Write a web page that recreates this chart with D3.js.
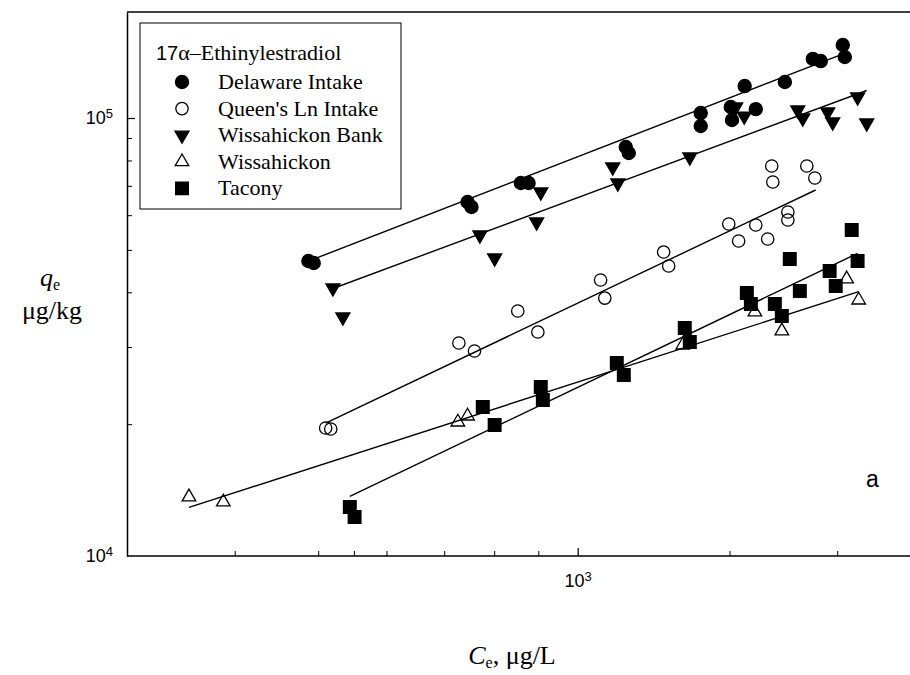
<!DOCTYPE html>
<html>
<head>
<meta charset="utf-8">
<script src="https://cdn.jsdelivr.net/npm/d3@7"></script>
<style>
body { margin: 0; background: #fff; }
svg { display: block; }
</style>
</head>
<body>
<script>
// ---- data (Ce in ug/L, qe in ug/kg) ----
const seriesNames = ["Delaware Intake", "Queen's Ln Intake", "Wissahickon Bank", "Wissahickon", "Tacony"];

const delawareCe = [487, 494, 745, 753, 859, 877, 1137, 1146, 1389, 1389, 1505, 1510, 1562, 1609, 1739, 1874, 1914, 2030, 2041];
const delawareQe = [47150, 46660, 64300, 62640, 71050, 71050, 85860, 83190, 102650, 95880, 105950, 98950, 118300, 104800, 120850, 136400, 134900, 146800, 137800];

const queensCe = [510, 517, 728, 759, 852, 899, 1063, 1075, 1258, 1275, 1497, 1537, 1609, 1661, 1753, 1753, 1679, 1684, 1844, 1884];
const queensQe = [19600, 19500, 30640, 29380, 36260, 32460, 42670, 38810, 49430, 45930, 57280, 52380, 56980, 52930, 61020, 58500, 77700, 71430, 77700, 72950];

const bankCe = [520, 534, 770, 801, 896, 906, 1098, 1113, 1349, 1525, 1560, 1800, 1824, 1950, 1976, 2112, 2164];
const bankQe = [40920, 35130, 54060, 47900, 57890, 67780, 77290, 71050, 81470, 105950, 101000, 104300, 100000, 103200, 97920, 111660, 97400];

const wissCe = [354, 388, 726, 745, 1324, 1605, 1725, 2051, 2118];
const wissQe = [13640, 13280, 20220, 20870, 30310, 36060, 32640, 42900, 38400];

const taconyCe = [544, 551, 776, 801, 906, 911, 1110, 1131, 1331, 1349, 1571, 1588, 1693, 1725, 1762, 1810, 1960, 1992, 2112, 2079];
const taconyQe = [12940, 12270, 21890, 19910, 24310, 22710, 27580, 25890, 33150, 30800, 39850, 37600, 37600, 35310, 47650, 40270, 44740, 41340, 47150, 55500];

// Freundlich fits: log10(qe) = logK + n*log10(Ce)
const fitN    = [0.763, 0.936, 0.730, 0.634, 0.942];
const fitLogK = [2.6226, 1.7693, 2.6281, 2.495, 1.5592];
const fitCeMin = [487, 510, 520, 354, 544];
const fitCeMax = [2046, 1888, 2164, 2118, 2112];

const xTickValues = [400, 500, 550, 600, 700, 800, 900, 1000, 1500, 2000];
const yTickValues = [2e4, 3e4, 4e4, 5e4, 6e4, 7e4, 8e4, 9e4, 1e5];

const svgWidth = 910;
const svgHeight = 675;
const plot = {left: 127, top: 12, bottom: 556};

const serif = "'Liberation Serif', 'Times New Roman', serif";
const sans = "'Liberation Sans', Arial, sans-serif";

window.onload = main;

function main() {
    const ceList = [delawareCe, queensCe, bankCe, wissCe, taconyCe];
    const qeList = [delawareQe, queensQe, bankQe, wissQe, taconyQe];
    const series = seriesNames.map((name, i) => ({
        name: name,
        points: ceList[i].map((c, j) => [c, qeList[i][j]]),
        n: fitN[i], logK: fitLogK[i], cMin: fitCeMin[i], cMax: fitCeMax[i]
    }));
    render(series);
}

function render(series) {
    const svg = d3.select("body").append("svg")
        .attr("width", svgWidth)
        .attr("height", svgHeight);

    const x = d3.scaleLog().domain([300, 3000]).range([plot.left, plot.left + 862]);
    const y = d3.scaleLog().domain([1e4, 174600]).range([plot.bottom, plot.top]);

    // frame: top line
    svg.append("line")
        .attr("x1", plot.left).attr("x2", svgWidth + 5)
        .attr("y1", plot.top).attr("y2", plot.top)
        .attr("stroke", "black").attr("stroke-width", 1.5);

    // minor ticks
    svg.append("g")
        .attr("transform", `translate(0,${plot.bottom})`)
        .call(d3.axisBottom(x).tickValues(xTickValues.filter(v => v !== 1000)).tickSizeInner(-5).tickSizeOuter(0).tickFormat(""))
        .call(g => g.select(".domain").remove());
    svg.append("g")
        .attr("transform", `translate(${plot.left},0)`)
        .call(d3.axisLeft(y).tickValues(yTickValues.filter(v => v !== 1e5)).tickSizeInner(-5).tickSizeOuter(0).tickFormat(""))
        .call(g => g.select(".domain").remove());

    // major ticks with labels
    const xAxis = svg.append("g")
        .attr("transform", `translate(0,${plot.bottom})`)
        .call(d3.axisBottom(x).tickValues([1000]).tickSizeInner(-8).tickSizeOuter(0).tickPadding(18));
    const yAxis = svg.append("g")
        .attr("transform", `translate(${plot.left},0)`)
        .call(d3.axisLeft(y).tickValues([1e4, 1e5]).tickSizeInner(-8).tickSizeOuter(0).tickPadding(14));

    [xAxis, yAxis].forEach(g => {
        g.selectAll(".tick line").attr("stroke-width", 1.2);
        g.select(".domain").attr("stroke-width", 1.5);
        g.selectAll("text")
            .attr("font-family", sans)
            .attr("font-size", 18)
            .attr("fill", "black")
            .each(function(d) {
                const t = d3.select(this);
                t.text("");
                t.append("tspan").text("10");
                t.append("tspan").attr("dy", "-0.45em").attr("font-size", 13).text(Math.round(Math.log10(d)));
            });
    });
    xAxis.select(".domain").attr("d", `M${plot.left},0H${svgWidth + 5}`);
    yAxis.selectAll(".tick").filter(d => d === 1e4).select("line").remove();

    // fitted lines
    const line = d3.line().x(d => x(d[0])).y(d => y(d[1]));
    svg.append("g")
        .selectAll("path")
        .data(series)
        .join("path")
        .attr("d", s => line([s.cMin, s.cMax].map(c => [c, Math.pow(10, s.logK + s.n * Math.log10(c))])))
        .attr("fill", "none")
        .attr("stroke", "black")
        .attr("stroke-width", 1.4);

    // markers
    const markerStyle = [
        {type: d3.symbolCircle, size: 135, fill: "black", rotate: 0},
        {type: d3.symbolCircle, size: 120, fill: "none", rotate: 0},
        {type: d3.symbolTriangle, size: 85, fill: "black", rotate: 180},
        {type: d3.symbolTriangle, size: 80, fill: "none", rotate: 0},
        {type: d3.symbolSquare, size: 160, fill: "black", rotate: 0}
    ];
    const symbolPath = i => d3.symbol().type(markerStyle[i].type).size(markerStyle[i].size)();

    series.forEach((s, i) => {
        const m = markerStyle[i];
        svg.append("g")
            .selectAll("path")
            .data(s.points)
            .join("path")
            .attr("d", symbolPath(i))
            .attr("transform", d => `translate(${x(d[0])},${y(d[1])}) rotate(${m.rotate})`)
            .attr("fill", m.fill)
            .attr("stroke", "black")
            .attr("stroke-width", 1.3);
    });

    // legend
    const legend = svg.append("g");
    legend.append("rect")
        .attr("x", 140).attr("y", 23).attr("width", 261).attr("height", 186)
        .attr("fill", "white").attr("stroke", "black").attr("stroke-width", 1);
    const title = legend.append("text")
        .attr("x", 156).attr("y", 60)
        .attr("font-size", 22)
        .attr("font-family", serif);
    title.append("tspan").attr("font-family", sans).attr("font-size", 20).text("17");
    title.append("tspan").text("\u03b1\u2013Ethinylestradiol");

    seriesNames.forEach((name, i) => {
        const cy = 82 + i * 26.6;
        const m = markerStyle[i];
        legend.append("path")
            .attr("d", symbolPath(i))
            .attr("transform", `translate(182,${cy}) rotate(${m.rotate})`)
            .attr("fill", m.fill)
            .attr("stroke", "black")
            .attr("stroke-width", 1.3);
        legend.append("text")
            .attr("x", 218).attr("y", cy + 7)
            .attr("font-size", 22)
            .attr("font-family", serif)
            .text(name);
    });

    // panel letter
    svg.append("text")
        .attr("x", 866).attr("y", 487)
        .attr("font-size", 23)
        .attr("font-family", "'Liberation Sans Narrow', " + sans)
        .text("a");

    // axis titles
    const yt = svg.append("text")
        .attr("x", 40).attr("y", 286)
        .attr("font-size", 26)
        .attr("font-family", serif);
    yt.append("tspan").attr("font-style", "italic").text("q");
    yt.append("tspan").attr("font-size", 16).attr("dy", 4).text("e");
    svg.append("text")
        .attr("x", 52).attr("y", 319)
        .attr("text-anchor", "middle")
        .attr("font-size", 26)
        .attr("font-family", serif)
        .text("\u03bcg/kg");

    const xt = svg.append("text")
        .attr("x", 512).attr("y", 664)
        .attr("text-anchor", "middle")
        .attr("font-size", 26)
        .attr("font-family", serif);
    xt.append("tspan").attr("font-style", "italic").text("C");
    xt.append("tspan").attr("font-size", 16).attr("dy", 4).text("e");
    xt.append("tspan").attr("dy", -4).text(", \u03bcg/L");
}
</script>
</body>
</html>
